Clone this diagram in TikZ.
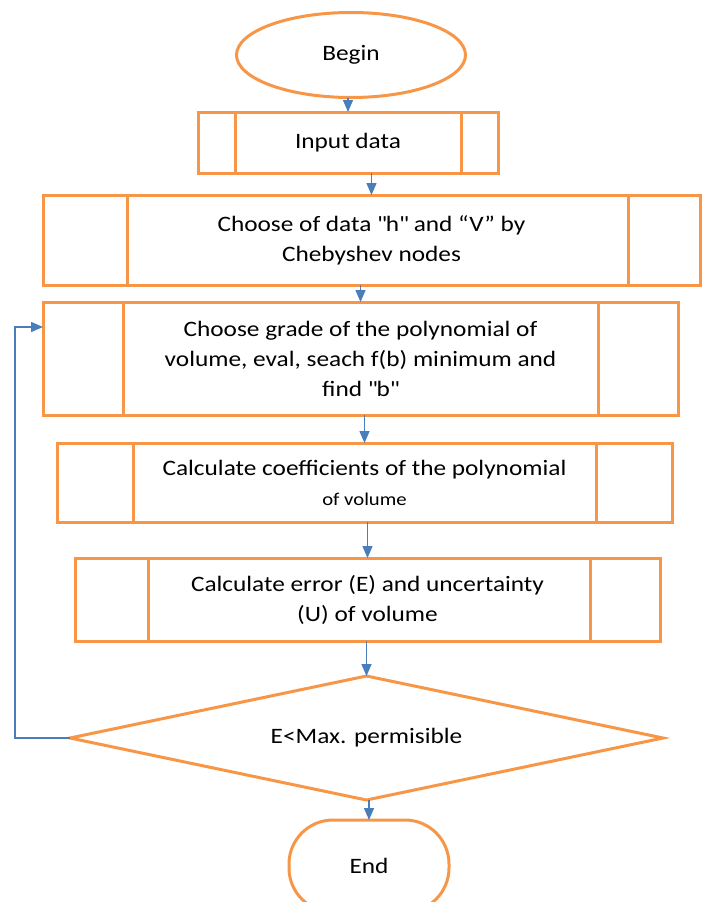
\documentclass[tikz,border=0pt]{standalone}
\usepackage{fontspec}
\setmainfont[FakeStretch=1.15]{Carlito}
\usetikzlibrary{shapes.geometric,arrows.meta}
\definecolor{boxorange}{HTML}{F79646}
\definecolor{flowblue}{HTML}{4A7EBB}
\tikzset{
  procbox/.style={draw=boxorange, line width=3pt, align=center, inner sep=0pt, outer sep=0pt},
  flow/.style={draw=flowblue, line width=1.5pt, -{Triangle[length=12pt,width=10pt]}},
}
\begin{document}
\begin{tikzpicture}[x=1pt,y=-1pt, font=\fontsize{22}{30}\selectfont]
    \useasboundingbox (0,0) rectangle (702,902);

    % Terminals and process boxes
    \node[procbox, ellipse, minimum width=229pt, minimum height=85pt] (begin) at (351,55) {Begin};
    \node[procbox, minimum width=300pt, minimum height=61pt] (input) at (348,142.5) {Input data};
    \node[procbox, minimum width=657pt, minimum height=90pt] (choose) at (371.5,240)
        {Choose of data \textquotedbl h\textquotedbl{} and “V” by\\Chebyshev nodes};
    \node[procbox, minimum width=635pt, minimum height=113pt] (grade) at (360.5,358.5)
        {Choose grade of the polynomial of\\volume, eval, seach f(b) minimum and\\find \textquotedbl b\textquotedbl};
    \node[procbox, minimum width=615pt, minimum height=79pt] (coeff) at (364.5,482.5)
        {Calculate coefficients of the polynomial\\{\fontsize{18}{22}\selectfont of volume}};
    \node[procbox, minimum width=585pt, minimum height=83pt] (error) at (367.5,599.5)
        {Calculate error (E) and uncertainty\\(U) of volume};
    \node[procbox, diamond, aspect=4.78, minimum width=593pt, minimum height=124pt] (cond) at (366.5,738) {E<Max. permisible};
    \node[procbox, rounded corners=44pt, minimum width=160pt, minimum height=92pt] (end) at (369,866) {End};

    % Inner side lines of the boxes
    \foreach \n/\l/\r in {input/37/37, choose/84/72, grade/80/80, coeff/76/76, error/73/70} {
        \draw[boxorange, line width=3pt] ([xshift=\l pt]\n.north west) -- ([xshift=\l pt]\n.south west)
            ([xshift=-\r pt]\n.north east) -- ([xshift=-\r pt]\n.south east);
    }

    % Connectors
    \foreach \a/\b in {begin/input, input/choose, choose/grade, grade/coeff, coeff/error, error/cond, cond/end} {
        \draw[flow] (\b.north |- \a.south) -- (\b.north);
    }
    \draw[flow] (cond.west) -- ++(-55,0) |- ([yshift=31.5pt]grade.west);
\end{tikzpicture}
\end{document}
